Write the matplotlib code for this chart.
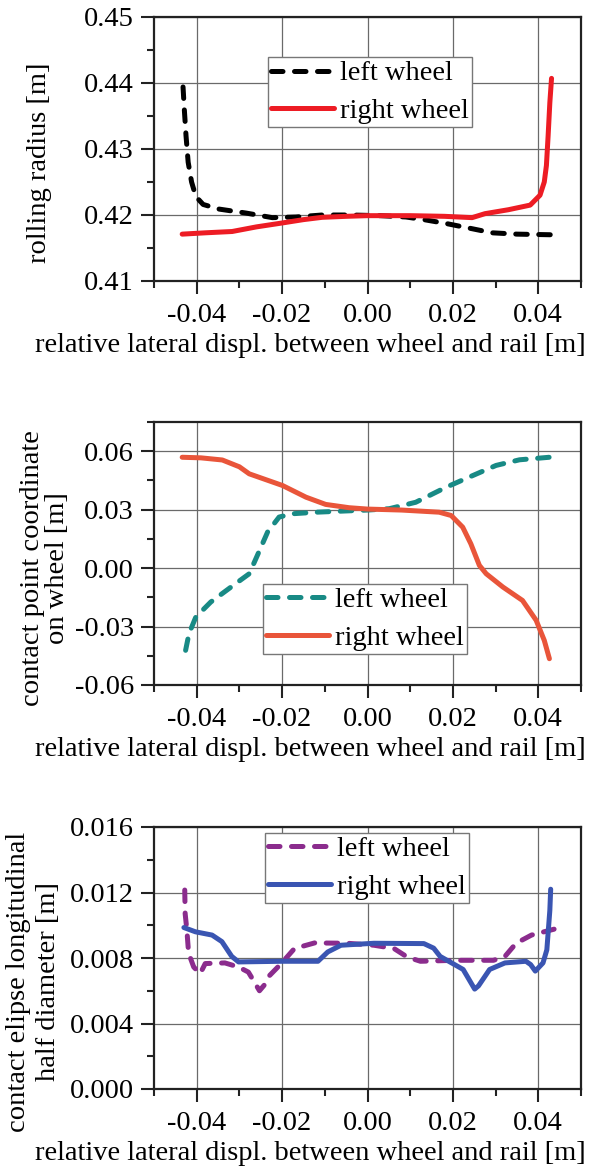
import matplotlib
matplotlib.use("Agg")
import matplotlib.pyplot as plt
from matplotlib.ticker import MultipleLocator, FormatStrFormatter

plt.rcParams["font.family"] = ["Liberation Serif", "DejaVu Serif"]
plt.rcParams["axes.unicode_minus"] = False

# ---- rolling radius ----
x1_left = [-0.0432, -0.0429, -0.0425, -0.0420, -0.0412, -0.0402, -0.0385, -0.0348, -0.0285,
           -0.0223, -0.0168, -0.0106, -0.0040, 0.0030, 0.0090, 0.0132, 0.0185, 0.0239,
           0.0292, 0.0350, 0.0435]
y1_left = [0.4394, 0.4360, 0.4320, 0.4280, 0.4250, 0.4228, 0.4216, 0.4209, 0.4203,
           0.4196, 0.4197, 0.4200, 0.4200, 0.4199, 0.4197, 0.4193, 0.4187, 0.4180,
           0.4173, 0.4171, 0.4170]
x1_right = [-0.0434, -0.0380, -0.0317, -0.0260, -0.0199, -0.0150, -0.0106, -0.0050, 0.0000,
            0.0100, 0.0180, 0.0245, 0.0275, 0.0330, 0.0381, 0.0404, 0.0414, 0.0419,
            0.0423, 0.0427, 0.0431]
y1_right = [0.4171, 0.4173, 0.4175, 0.4182, 0.4188, 0.4193, 0.41965, 0.4198, 0.4199,
            0.4199, 0.4198, 0.4196, 0.4202, 0.4208, 0.4215, 0.4230, 0.4250, 0.4275,
            0.4320, 0.4370, 0.4407]

# ---- contact point coordinate on wheel ----
x2_left = [-0.0426, -0.0418, -0.0402, -0.0367, -0.0309, -0.0277, -0.0258, -0.0234, -0.0207,
           -0.0176, -0.0120, -0.0066, 0.0000, 0.0051, 0.0113, 0.0184, 0.0238, 0.0301,
           0.0356, 0.0426]
y2_left = [-0.0422, -0.0336, -0.0251, -0.0174, -0.0080, -0.0029, 0.0065, 0.0185, 0.0262,
           0.0279, 0.0287, 0.0292, 0.0298, 0.0305, 0.0338, 0.0415, 0.0467, 0.0527,
           0.0556, 0.0569]
x2_right = [-0.0434, -0.0390, -0.0340, -0.0300, -0.0277, -0.0199, -0.0144, -0.0098, -0.0043,
            0.0000, 0.0080, 0.0168, 0.0196, 0.0223, 0.0242, 0.0262, 0.0278, 0.0317,
            0.0363, 0.0395, 0.0414, 0.0426]
y2_right = [0.0569, 0.0566, 0.0555, 0.0520, 0.0484, 0.0424, 0.0364, 0.0327, 0.0310,
            0.0303, 0.0298, 0.0287, 0.0270, 0.0210, 0.0125, 0.0014, -0.0029, -0.0097,
            -0.0166, -0.0268, -0.0371, -0.0465]

# ---- contact ellipse longitudinal half diameter ----
x3_left = [-0.0428, -0.0427, -0.0423, -0.0419, -0.0407, -0.0392, -0.0380, -0.0334, -0.0302,
           -0.0279, -0.0262, -0.0253, -0.0240, -0.0229, -0.0202, -0.0171, -0.0124, -0.0047,
           0.0015, 0.0062, 0.0093, 0.0124, 0.0206, 0.0295, 0.0322, 0.0348, 0.0384, 0.0437]
y3_left = [0.01215, 0.0107, 0.0097, 0.0083, 0.00745, 0.00704, 0.00766, 0.0077, 0.00745,
           0.00714, 0.0064, 0.0060, 0.0064, 0.00694, 0.00766, 0.00858, 0.00892, 0.0089,
           0.00878, 0.00858, 0.00806, 0.0078, 0.00786, 0.00786, 0.0081, 0.0089, 0.0094, 0.00976]
x3_right = [-0.0430, -0.0403, -0.0364, -0.0341, -0.0318, -0.0302, -0.0200, -0.0116, -0.0093,
            -0.0062, 0.0015, 0.0132, 0.0155, 0.0170, 0.0197, 0.0224, 0.0251, 0.0260,
            0.0286, 0.0322, 0.0371, 0.0382, 0.0393, 0.0411, 0.0420, 0.0427, 0.0429]
y3_right = [0.00986, 0.0096, 0.0094, 0.0090, 0.0081, 0.00776, 0.0078, 0.0078, 0.00837,
            0.00878, 0.0089, 0.00888, 0.0086, 0.0081, 0.0077, 0.0073, 0.0061, 0.0063,
            0.0073, 0.0077, 0.0078, 0.0076, 0.0072, 0.0077, 0.0085, 0.0109, 0.0122]

xlabel = "relative lateral displ. between wheel and rail [m]"
series_labels = ["left wheel", "right wheel"]

FS = 20.5
fig = plt.figure(figsize=(5.92, 11.69), dpi=100)

L, W = 154 / 592, 427 / 592
def ax_rect(top_px, bot_px):
    return [L, 1 - bot_px / 1169, W, (bot_px - top_px) / 1169]

panels = [
    dict(rect=ax_rect(17, 281), ylim=(0.41, 0.45), major=0.01, minor=0.005, fmt="%.2f",
         ylabel="rolling radius [m]", ylab_xy=(-0.267, 0.449), lsp=1.0,
         left=(x1_left, y1_left, "black"), right=(x1_right, y1_right, "#ed1c24"),
         leg=(0.267, 0.848)),
    dict(rect=ax_rect(422, 685), ylim=(-0.06, 0.075), major=0.03, minor=0.015, fmt="%.2f",
         ylabel="contact point coordinate\non wheel [m]", ylab_xy=(-0.255, 0.445), lsp=1.0,
         left=(x2_left, y2_left, "#188a85"), right=(x2_right, y2_right, "#e9553a"),
         leg=(0.255, 0.384)),
    dict(rect=ax_rect(827, 1089), ylim=(0.0, 0.016), major=0.004, minor=0.002, fmt="%.3f",
         ylabel="contact elipse longitudinal\nhalf diameter [m]", ylab_xy=(-0.283, 0.41),
         lsp=1.25,
         left=(x3_left, y3_left, "#8b2c8d"), right=(x3_right, y3_right, "#3a55b2"),
         leg=(0.26, 0.977)),
]

for p in panels:
    ax = fig.add_axes(p["rect"])
    xl, yl, cl = p["left"]
    xr, yr, cr = p["right"]
    ax.plot(xl, yl, color=cl, lw=3.6, dashes=(2.3, 2.3), dash_capstyle="round",
            label=series_labels[0])
    ax.plot(xr, yr, color=cr, lw=3.6, label=series_labels[1], solid_capstyle="round")

    ax.set_xlim(-0.05, 0.05)
    ax.set_ylim(*p["ylim"])
    ax.xaxis.set_major_locator(MultipleLocator(0.02))
    ax.xaxis.set_minor_locator(MultipleLocator(0.01))
    ax.xaxis.set_major_formatter(FormatStrFormatter("%.2f"))
    ax.yaxis.set_major_locator(MultipleLocator(p["major"]))
    ax.yaxis.set_minor_locator(MultipleLocator(p["minor"]))
    ax.yaxis.set_major_formatter(FormatStrFormatter(p["fmt"]))

    ax.grid(True, which="major", color="#6a6a6a", lw=0.9)
    ax.set_axisbelow(True)
    for s in ax.spines.values():
        s.set_linewidth(1.6)
        s.set_color("#222222")
    ax.tick_params(which="major", direction="out", length=9.5, width=1.5,
                   labelsize=FS, color="#222222")
    ax.tick_params(which="minor", direction="out", length=5, width=1.5, color="#222222")
    ax.tick_params(axis="x", which="major", pad=6)
    ax.tick_params(axis="y", which="major", pad=5)

    ax.set_xlabel(xlabel, fontsize=FS)
    ax.xaxis.set_label_coords(0.366, -0.197)
    ax.set_ylabel(p["ylabel"], fontsize=FS, ha="center", va="center",
                  linespacing=p["lsp"])
    ax.yaxis.set_label_coords(*p["ylab_xy"])

    leg = ax.legend(loc="upper left", bbox_to_anchor=p["leg"], borderaxespad=0,
                    fontsize=FS, fancybox=False, framealpha=1, edgecolor="#777777",
                    handlelength=2.2, handletextpad=0.2, borderpad=0.12,
                    labelspacing=0.4)
    leg.get_frame().set_linewidth(1.0)

fig.savefig("out.png", dpi=100)
